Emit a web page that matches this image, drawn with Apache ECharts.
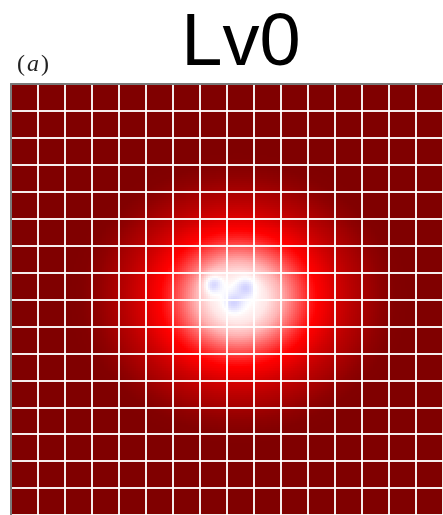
<!DOCTYPE html>
<html>
<head>
<meta charset="utf-8">
<script src="https://cdn.jsdelivr.net/npm/echarts@6/dist/echarts.min.js"></script>
<style>
  html, body { margin: 0; padding: 0; background: #ffffff; }
  #chart { width: 443px; height: 515px; }
</style>
</head>
<body>
<div id="chart"></div>
<script>
// Panel texts
const titleText = 'Lv0';
const panelTag = ['(', 'a', ')'];

// Field level against distance from the centre (distance in cell units)
const profileRadius = [0, 0.5, 1.0, 1.5, 2.0, 2.5, 3.0, 3.5, 4.0, 4.5, 5.0, 5.5, 6.0, 30];
const profileLevel  = [0.0, 0.01, 0.05, 0.15, 0.3, 0.44, 0.55, 0.68, 0.78, 0.86, 0.94, 0.99, 1.0, 1.0];
const fieldCentre = [8.44, 7.98];
const fieldStretch = [0.95, 1.1];

// Three shallow dips near the centre (cell units)
const dipX = [7.45, 8.74, 8.27];
const dipY = [7.43, 7.57, 8.13];
const dipDepth = [0.14, 0.1, 0.09];
const dipWidth = [0.26, 0.25, 0.25];

// Coarse mesh, and the number of field samples along each side
const cellCount = 16;
const sampleCount = 217;

// Diverging colour scale (blue - white - red)
const colourStops = ['#00004c', '#0000ff', '#ffffff', '#ff0000', '#800000'];

function levelAt(r) {
  for (let k = 1; k < profileRadius.length; k++) {
    if (r <= profileRadius[k]) {
      const t = (r - profileRadius[k - 1]) / (profileRadius[k] - profileRadius[k - 1]);
      return profileLevel[k - 1] + t * (profileLevel[k] - profileLevel[k - 1]);
    }
  }
  return profileLevel[profileLevel.length - 1];
}

const sampleIndex = [];
for (let i = 0; i < sampleCount; i++) sampleIndex.push(i);

const step = cellCount / sampleCount;
const field = [];
for (let i = 0; i < sampleCount; i++) {
  const x = (i + 0.5) * step;
  for (let j = 0; j < sampleCount; j++) {
    const y = (j + 0.5) * step;
    const dx = (x - fieldCentre[0]) * fieldStretch[0];
    const dy = (y - fieldCentre[1]) * fieldStretch[1];
    let v = levelAt(Math.sqrt(dx * dx + dy * dy));
    for (let k = 0; k < dipX.length; k++) {
      const ex = x - dipX[k], ey = y - dipY[k];
      v -= dipDepth[k] * Math.exp(-(ex * ex + ey * ey) / (2 * dipWidth[k] * dipWidth[k]));
    }
    field.push([i, j, v]);
  }
}

// One filled tile per sample, snapped to whole pixels with a small overlap so no seams show
function renderTile(params, api) {
  const p = api.coord([api.value(0), api.value(1)]);
  const s = api.size([1, 1]);
  return {
    type: 'rect',
    shape: {
      x: Math.floor(p[0] - s[0] / 2),
      y: Math.floor(p[1] - s[1] / 2),
      width: Math.ceil(s[0]) + 1,
      height: Math.ceil(s[1]) + 1
    },
    style: { fill: api.visual('color') }
  };
}

const chart = echarts.init(document.getElementById('chart'), null, { renderer: 'canvas' });

const meshLine = { color: '#ffffff', width: 2, opacity: 0.92 };
const frameLine = { color: '#7a7a7a', width: 2 };

chart.setOption({
  animation: false,
  backgroundColor: '#ffffff',
  grid: { left: 11, top: 84, width: 434, height: 434, containLabel: false },
  xAxis: [
    { type: 'category', data: sampleIndex, show: false, gridIndex: 0 },
    {
      type: 'value', min: 0, max: cellCount, interval: 1, position: 'top', z: 10, gridIndex: 0,
      axisLine: { show: true, lineStyle: frameLine },
      axisTick: { show: false }, axisLabel: { show: false },
      splitLine: { show: true, showMinLine: false, lineStyle: meshLine }
    }
  ],
  yAxis: [
    { type: 'category', data: sampleIndex, show: false, inverse: true, gridIndex: 0 },
    {
      type: 'value', min: 0, max: cellCount, interval: 1, position: 'left', inverse: true, z: 10, gridIndex: 0,
      axisLine: { show: true, lineStyle: frameLine },
      axisTick: { show: false }, axisLabel: { show: false },
      splitLine: { show: true, showMinLine: false, lineStyle: meshLine }
    }
  ],
  visualMap: {
    show: false, type: 'continuous', min: -1, max: 1, dimension: 2,
    seriesIndex: 0, inRange: { color: colourStops }
  },
  series: [{
    type: 'custom',
    xAxisIndex: 0, yAxisIndex: 0,
    data: field,
    encode: { x: 0, y: 1 },
    renderItem: renderTile,
    clip: true,
    silent: true,
    progressive: 0,
    animation: false
  }],
  graphic: [
    {
      type: 'text', x: 241, y: 45, z: 20,
      style: {
        text: titleText, align: 'center', verticalAlign: 'middle',
        fontFamily: 'Liberation Sans', fontSize: 74, fill: '#000000'
      }
    },
    {
      type: 'text', x: 33, y: 65, z: 20,
      style: {
        text: '{p|' + panelTag[0] + '}{i|' + panelTag[1] + '}{p|' + panelTag[2] + '}',
        align: 'center', verticalAlign: 'middle',
        rich: {
          p: { fontFamily: 'Liberation Serif', fontSize: 24, fill: '#222222' },
          i: { fontFamily: 'Liberation Serif', fontStyle: 'italic', fontSize: 24, fill: '#222222', padding: [0, 2, 0, 2] }
        }
      }
    }
  ]
});
</script>
</body>
</html>
